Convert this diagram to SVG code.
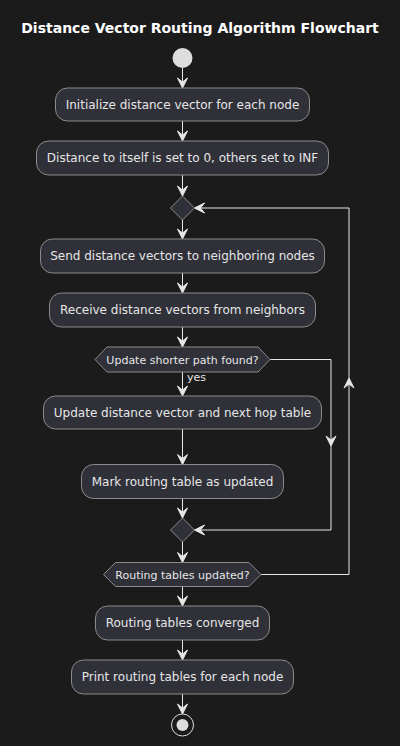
<svg xmlns="http://www.w3.org/2000/svg" width="400" height="746" viewBox="0 0 400 746">
<defs>
<style>
.bg{fill:#1b1b1c}
.box{fill:#2f3038;stroke:#8c8c8c;stroke-width:1}
.t{font-family:"DejaVu Sans",sans-serif;font-size:12px;fill:#e6e6e6;text-anchor:middle}
.ts{font-family:"DejaVu Sans",sans-serif;font-size:11px;fill:#e6e6e6;text-anchor:middle}
.ln{stroke:#e6e6e6;stroke-width:1;fill:none}
.ah{fill:#e6e6e6;stroke:#e6e6e6;stroke-width:1}
</style>
</defs>
<rect class="bg" x="0" y="0" width="400" height="746"/>
<text x="200" y="33" style="font-family:'DejaVu Sans',sans-serif;font-size:14px;font-weight:bold;fill:#ffffff;text-anchor:middle">Distance Vector Routing Algorithm Flowchart</text>

<g id="connectors">
<path class="ln" d="M182.5,68 V88"/>
<path class="ln" d="M182.5,121 V141"/>
<path class="ln" d="M182.5,175 V196"/>
<path class="ln" d="M182.5,220 V239"/>
<path class="ln" d="M182.5,273 V293"/>
<path class="ln" d="M182.5,327 V347"/>
<path class="ln" d="M182.5,372 V396"/>
<path class="ln" d="M182.5,429 V464.5"/>
<path class="ln" d="M182.5,498.5 V518"/>
<path class="ln" d="M182.5,542 V562.5"/>
<path class="ln" d="M182.5,586.5 V606"/>
<path class="ln" d="M182.5,640 V660"/>
<path class="ln" d="M182.5,694 V714"/>
<path class="ln" d="M270,359.5 H331 V530 H194.5"/>
<path class="ln" d="M261,574.5 H349 V208 H194.5"/>
<polygon class="ah" points="177.5,78 182.5,88 187.5,78 182.5,82"/>
<polygon class="ah" points="177.5,131 182.5,141 187.5,131 182.5,135"/>
<polygon class="ah" points="177.5,186 182.5,196 187.5,186 182.5,190"/>
<polygon class="ah" points="177.5,229 182.5,239 187.5,229 182.5,233"/>
<polygon class="ah" points="177.5,283 182.5,293 187.5,283 182.5,287"/>
<polygon class="ah" points="177.5,337 182.5,347 187.5,337 182.5,341"/>
<polygon class="ah" points="177.5,386 182.5,396 187.5,386 182.5,390"/>
<polygon class="ah" points="177.5,454.5 182.5,464.5 187.5,454.5 182.5,458.5"/>
<polygon class="ah" points="177.5,508 182.5,518 187.5,508 182.5,512"/>
<polygon class="ah" points="177.5,552.5 182.5,562.5 187.5,552.5 182.5,556.5"/>
<polygon class="ah" points="177.5,596 182.5,606 187.5,596 182.5,600"/>
<polygon class="ah" points="177.5,650 182.5,660 187.5,650 182.5,654"/>
<polygon class="ah" points="177.5,704 182.5,714 187.5,704 182.5,708"/>
<polygon class="ah" points="326,436 331,446 336,436 331,440"/>
<polygon class="ah" points="344,388 349,378 354,388 349,384"/>
<polygon class="ah" points="204.5,525 194.5,530 204.5,535 200.5,530"/>
<polygon class="ah" points="204.5,203 194.5,208 204.5,213 200.5,208"/>
<text x="187" y="381" class="ts" style="text-anchor:start">yes</text>
</g>

<g id="start"><circle cx="182.5" cy="58" r="10" fill="#dddddd"/></g>

<g id="init"><rect class="box" x="55.5" y="88" width="254" height="33" rx="12"/><text class="t" x="182.5" y="109">Initialize distance vector for each node</text></g>
<g id="self"><rect class="box" x="36.5" y="141" width="292" height="34" rx="12"/><text class="t" x="182.5" y="162">Distance to itself is set to 0, others set to INF</text></g>
<g id="loopmerge"><polygon class="box" points="182.5,196 194.5,208 182.5,220 170.5,208"/></g>
<g id="send"><rect class="box" x="40.5" y="239" width="284" height="34" rx="12"/><text class="t" x="182.5" y="260">Send distance vectors to neighboring nodes</text></g>
<g id="receive"><rect class="box" x="49.5" y="293" width="266" height="34" rx="12"/><text class="t" x="182.5" y="314">Receive distance vectors from neighbors</text></g>
<g id="decision1"><polygon class="box" points="95,359.5 107,347 258,347 270,359.5 258,372 107,372"/><text class="ts" x="182.5" y="363.5">Update shorter path found?</text></g>
<g id="update"><rect class="box" x="43.5" y="396" width="278" height="33" rx="12"/><text class="t" x="182.5" y="417">Update distance vector and next hop table</text></g>
<g id="mark"><rect class="box" x="81.5" y="464.5" width="202" height="34" rx="12"/><text class="t" x="182.5" y="485.5">Mark routing table as updated</text></g>
<g id="merge2"><polygon class="box" points="182.5,518 194.5,530 182.5,542 170.5,530"/></g>
<g id="decision2"><polygon class="box" points="103.5,574.5 115.5,562.5 249,562.5 261,574.5 249,586.5 115.5,586.5"/><text class="ts" x="182.5" y="578.5">Routing tables updated?</text></g>
<g id="converged"><rect class="box" x="95.5" y="606" width="174" height="34" rx="12"/><text class="t" x="182.5" y="627">Routing tables converged</text></g>
<g id="print"><rect class="box" x="71.5" y="660" width="222" height="34" rx="12"/><text class="t" x="182.5" y="681">Print routing tables for each node</text></g>
<g id="end"><circle cx="182.5" cy="725" r="11" fill="none" stroke="#dddddd" stroke-width="1"/><circle cx="182.5" cy="725" r="6" fill="#dddddd"/></g>
</svg>
